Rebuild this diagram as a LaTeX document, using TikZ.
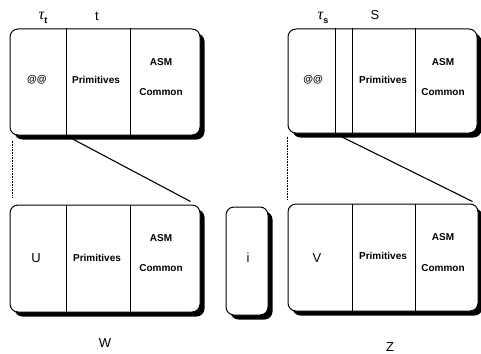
\documentclass[tikz,border=0pt]{standalone}
\usepackage{fontspec}
\setmainfont{Liberation Sans}
\newfontfamily\greekfont{Liberation Serif}
\usetikzlibrary{shadows,calc}
\newcommand{\tausub}[1]{{\greekfont\itshape\fontsize{16}{16}\selectfont τ}\raisebox{-3.5pt}{\fontsize{9}{9}\selectfont\bfseries #1}}
\begin{document}
\begin{tikzpicture}[x=1pt,y=-1pt,
  panel/.style={draw=black, line width=1pt, fill=white, rounded corners=8pt,
    drop shadow={shadow xshift=4.5pt, shadow yshift=-4.5pt, opacity=1, fill=black},
    inner sep=0pt, minimum height=#1},
  panel/.default=106pt,
  divider/.style={line width=0.8pt},
  cell/.style={font=\fontsize{10}{12}\selectfont\bfseries, inner sep=0pt},
  letter/.style={font=\fontsize{13}{15}\selectfont, inner sep=0pt},
  zoomline/.style={line width=1.1pt},
  guide/.style={line width=0.9pt, dash pattern=on 1pt off 0.6pt}]
\useasboundingbox (0,0) rectangle (481,353);

% upper row: two panels
\node[panel, minimum width=190pt] (tl) at (105,82) {};
\node[panel=104pt, minimum width=189pt] (tr) at (382.5,81) {};
% lower row: two panels and the narrow one between them
\node[panel=107pt, minimum width=190pt] (bl) at (105,258.5) {};
\node[panel=108pt, minimum width=42pt] (mid) at (247,261) {};
\node[panel=107pt, minimum width=190pt] (br) at (383,257.5) {};

% column dividers
\draw[divider] (66,0 |- tl.north) -- (66,0 |- tl.south);
\draw[divider] (130,0 |- tl.north) -- (130,0 |- tl.south);
\draw[divider] (335,0 |- tr.north) -- (335,0 |- tr.south);
\draw[divider] (352,0 |- tr.north) -- (352,0 |- tr.south);
\draw[divider] (415,0 |- tr.north) -- (415,0 |- tr.south);
\draw[divider] (66,0 |- bl.north) -- (66,0 |- bl.south);
\draw[divider] (130,0 |- bl.north) -- (130,0 |- bl.south);
\draw[divider] (352,0 |- br.north) -- (352,0 |- br.south);
\draw[divider] (415,0 |- br.north) -- (415,0 |- br.south);

% cell texts, upper left
\node[cell] (tlat) at (37,80) {@@};
\node[cell] (tlprim) at (96,80) {Primitives};
\node[cell] (tlasm) at (161,62) {ASM};
\node[cell] (tlcom) at (161,92) {Common};
% cell texts, upper right
\node[cell] (trat) at (313,80) {@@};
\node[cell] (trprim) at (383,80) {Primitives};
\node[cell] (trasm) at (443,62) {ASM};
\node[cell] (trcom) at (443,92) {Common};
% cell texts, lower left
\node[letter] (u) at (36,258) {U};
\node[cell] (blprim) at (97,258) {Primitives};
\node[cell] (blasm) at (161,238) {ASM};
\node[cell] (blcom) at (161,268) {Common};
% narrow panel
\node[letter] (i) at (248,258) {i};
% cell texts, lower right
\node[letter] (v) at (317,258) {V};
\node[cell] (brprim) at (383,256) {Primitives};
\node[cell] (brasm) at (443,237) {ASM};
\node[cell] (brcom) at (443,268) {Common};

% headings above the upper panels
\node[inner sep=0pt] (taut) at (43,18) {\tausub{t}};
\node[letter] (t) at (97,16) {t};
\node[inner sep=0pt] (taus) at (323,18) {\tausub{s}};
\node[letter] (s) at (375,15) {S};
% names below the lower panels
\node[letter] (w) at (105,343) {W};
\node[letter] (z) at (390,347) {Z};

% expansion lines from upper to lower panels
\coordinate (tlcut) at (66,0 |- tl.south);
\coordinate (trcut) at (335,0 |- tr.south);
\coordinate (blcorner) at ($(bl.north east)+(-10,-3)$);
\coordinate (brcorner) at ($(br.north east)+(-6,-2)$);
\draw[zoomline] (tlcut) -- (blcorner);
\draw[zoomline] (trcut) -- (brcorner);

\coordinate (tlleft) at ($(tl.south west)+(3,5)$);
\coordinate (blleft) at ($(bl.north west)+(3,-7)$);
\coordinate (trleft) at ($(tr.south west)+(0,3)$);
\coordinate (brleft) at ($(br.north west)+(0,-4)$);
\draw[guide] (tlleft) -- (blleft);
\draw[guide] (trleft) -- (brleft);
\end{tikzpicture}
\end{document}
